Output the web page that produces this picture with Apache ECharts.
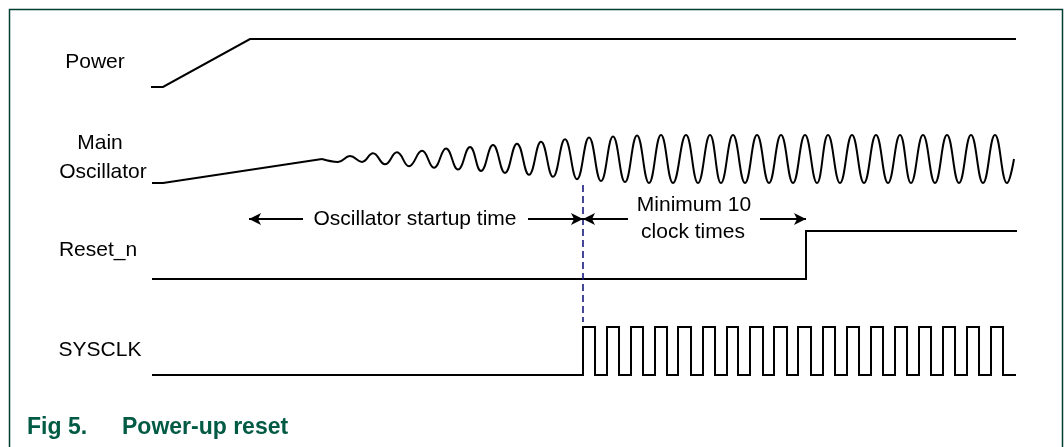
<!DOCTYPE html>
<html><head><meta charset="utf-8">
<script src="https://cdn.jsdelivr.net/npm/echarts@6/dist/echarts.min.js"></script>
<style>html,body{margin:0;padding:0;background:#fff}#c{width:1064px;height:447px}</style>
</head><body><div id="c"></div>
<script>
// ---- signal names ----
const signalLabels = ['Power', 'Main', 'Oscillator', 'Reset_n', 'SYSCLK'];
const titleNumber = 'Fig 5.';
const titleText = 'Power-up reset';
const startupText = 'Oscillator startup time';
const minClockText = ['Minimum 10', 'clock times'];

// ---- waveforms (time units, logic level 0..1) ----
const powerTimes  = [151, 163, 250, 1016];
const powerLevels = [0, 0, 1, 1];

const oscRampTimes  = [152, 163, 322];
const oscRampLevels = [0, 0, 0.5];

const oscTimes = [322, 338, 350, 362, 373, 385, 397, 409, 422, 434, 446, 458, 470, 481, 493, 505,
  517, 529, 541, 553, 565, 577, 589, 601, 613, 625, 637, 649, 661, 673, 686, 698, 710, 721, 733,
  745, 757, 769, 781, 793, 805, 817, 828, 840, 852, 864, 876, 888, 900, 911, 923, 935, 947, 959,
  971, 983, 995, 1007, 1014];
const oscLevels = [0.5, 0.44, 0.56, 0.44, 0.62, 0.39, 0.64, 0.35, 0.67, 0.32, 0.72, 0.28, 0.75, 0.25,
  0.79, 0.21, 0.82, 0.17, 0.86, 0.13, 0.91, 0.08, 0.95, 0.04, 0.97, 0.02, 0.99, 0, 1, 0, 1, 0, 1, 0,
  1, 0, 1, 0, 1, 0, 1, 0, 1, 0, 1, 0, 1, 0, 1, 0, 1, 0, 1, 0, 1, 0, 1, 0, 0.5];

const resetTimes  = [152, 806, 1017];
const resetLevels = [0, 1, 1];

const clkTimes = [152, 583, 595, 607, 619, 631, 643, 655, 667, 678, 691, 703, 715, 727, 738, 750,
  763, 774, 787, 798, 811, 823, 835, 847, 859, 871, 883, 895, 907, 919, 931, 943, 955, 967, 979,
  991, 1003, 1016];
const clkLevels = [0, 1, 0, 1, 0, 1, 0, 1, 0, 1, 0, 1, 0, 1, 0, 1, 0, 1, 0, 1, 0, 1, 0, 1, 0, 1, 0,
  1, 0, 1, 0, 1, 0, 1, 0, 1, 0, 0];

// ---- timing annotations ----
const startupBeginTime = 249;
const oscStableTime = 583;
const resetReleaseTime = 806;

function zip(t, l) { return t.map((v, i) => [v, l[i]]); }

const lanes = [39, 135, 231, 327]; // top of each lane
const laneH = 48;
const grids = lanes.map(top => ({ left: 0, right: 0, top: top, height: laneH, containLabel: false }));
grids.push({ left: 0, right: 0, top: 0, bottom: 0, containLabel: false });
const xAxes = grids.map((g, i) => ({ type: 'value', gridIndex: i, min: 0, max: 1064, show: false }));
const yAxes = grids.map((g, i) => i < 4
  ? { type: 'value', gridIndex: i, min: 0, max: 1, show: false }
  : { type: 'value', gridIndex: i, min: 0, max: 447, inverse: true, show: false });

const wave = { type: 'line', showSymbol: false, symbol: 'none', clip: false, silent: true,
  lineStyle: { color: '#000', width: 2, join: 'miter', cap: 'butt' } };

const arrowY = 219;
const arrowStyle = { color: '#000', width: 2, type: 'solid' };
function arrow(from, to) {
  return [{ coord: [from, arrowY], symbol: 'none', lineStyle: arrowStyle },
          { coord: [to, arrowY], symbol: 'arrow' }];
}

const labelFont = '21px "Liberation Sans", Arial, sans-serif';
function txt(text, x, y, font, fill, align) {
  return { type: 'text', silent: true, style: { text: text, x: x, y: y, font: font, fill: fill || '#000',
    textAlign: align || 'center', align: align || 'center', textVerticalAlign: 'middle', verticalAlign: 'middle' } };
}
const titleFont = 'bold 23px "Liberation Sans", Arial, sans-serif';
const green = '#005a44';

const option = {
  animation: false,
  grid: grids,
  xAxis: xAxes,
  yAxis: yAxes,
  series: [
    Object.assign({}, wave, { xAxisIndex: 0, yAxisIndex: 0, data: zip(powerTimes, powerLevels) }),
    Object.assign({}, wave, { xAxisIndex: 1, yAxisIndex: 1, data: zip(oscRampTimes, oscRampLevels) }),
    Object.assign({}, wave, { xAxisIndex: 1, yAxisIndex: 1, smooth: 0.45, data: zip(oscTimes, oscLevels) }),
    Object.assign({}, wave, { xAxisIndex: 2, yAxisIndex: 2, step: 'end', data: zip(resetTimes, resetLevels) }),
    Object.assign({}, wave, { xAxisIndex: 3, yAxisIndex: 3, step: 'end', data: zip(clkTimes, clkLevels) }),
    {
      type: 'scatter', xAxisIndex: 4, yAxisIndex: 4, data: [[0, 0]], symbolSize: 0, silent: true,
      markLine: {
        silent: true, animation: false, symbolSize: [9, 12],
        label: { show: false },
        data: [
          [{ coord: [oscStableTime, 185], symbol: 'none',
             lineStyle: { color: '#1a1a80', width: 1.6, type: [7, 4] } },
           { coord: [oscStableTime, 322], symbol: 'none' }],
          arrow(303, startupBeginTime),
          arrow(528, oscStableTime),
          arrow(628, oscStableTime),
          arrow(760, resetReleaseTime)
        ]
      }
    }
  ],
  graphic: [
    { type: 'rect', silent: true, shape: { x: 9.5, y: 9.5, width: 1053, height: 470 },
      style: { fill: 'none', stroke: '#003f33', lineWidth: 1.5 } },
    txt(signalLabels[0], 95, 62, labelFont),
    txt(signalLabels[1], 100, 143, labelFont),
    txt(signalLabels[2], 103, 172, labelFont),
    txt(signalLabels[3], 98, 250, labelFont),
    txt(signalLabels[4], 100, 350, labelFont),
    txt(startupText, 415, arrowY, labelFont),
    txt(minClockText[0], 694, 205, labelFont),
    txt(minClockText[1], 693, 232, labelFont),
    txt(titleNumber, 27, 428, titleFont, green, 'left'),
    txt(titleText, 122, 428, titleFont, green, 'left')
  ]
};

const chart = echarts.init(document.getElementById('c'), null, { renderer: 'canvas' });
chart.setOption(option);
</script>
</body></html>
